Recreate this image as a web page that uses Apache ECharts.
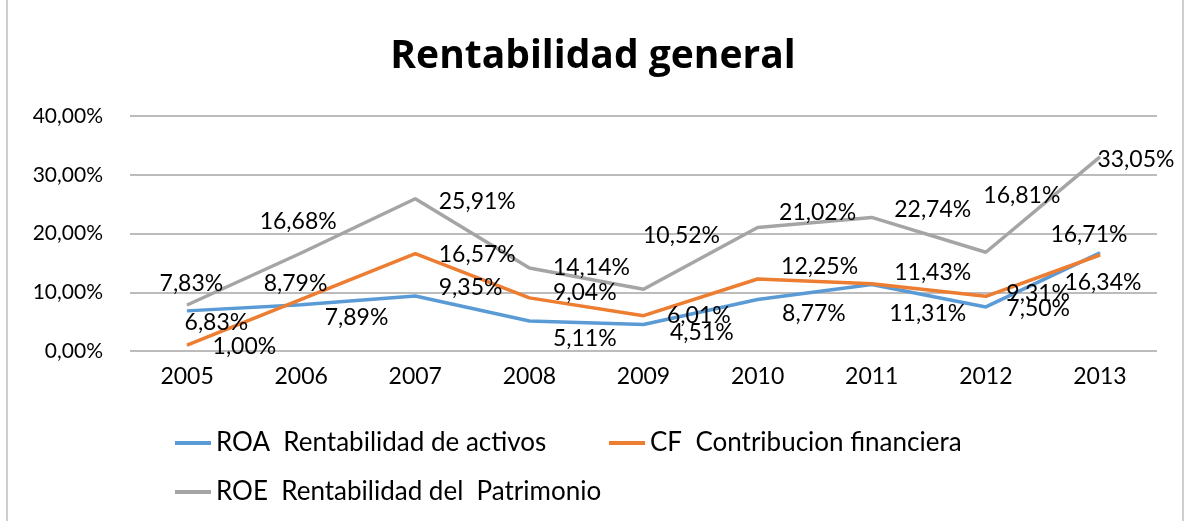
<!DOCTYPE html>
<html>
<head>
<meta charset="utf-8">
<script src="https://cdn.jsdelivr.net/npm/echarts@6/dist/echarts.min.js"></script>
<style>
  html, body { margin: 0; padding: 0; background: #fff; }
  #myChart { width: 1186px; height: 521px; }
</style>
</head>
<body>
<div id="myChart"></div>
<script>
// datos
const years = ['2005', '2006', '2007', '2008', '2009', '2010', '2011', '2012', '2013'];
const roa = [6.83, 7.89, 9.35, 5.11, 4.51, 8.77, 11.31, 7.50, 16.71];
const cf = [1.00, 8.79, 16.57, 9.04, 6.01, 12.25, 11.43, 9.31, 16.34];
const roe = [7.83, 16.68, 25.91, 14.14, 10.52, 21.02, 22.74, 16.81, 33.05];
const yTicks = [0, 10, 20, 30, 40];

const names = {
  roa: 'ROA  Rentabilidad de activos',
  cf: 'CF  Contribucion financiera',
  roe: 'ROE  Rentabilidad del  Patrimonio'
};

// desplazamiento de cada etiqueta (como en Excel, movidas a mano)
const roaShift = [[-8, 12], [18, 13], [18, -8], [18, 18], [21, 8], [19, 14], [12, 29], [15, 2], [-55, -18]];
const cfShift = [[20, 1], [-43, -16], [18, 1], [18, -5], [18, 0], [18, -12], [17, -11], [15, -3], [-41, 28]];
const roeShift = [[-33, -21], [-47, -31], [18, 3], [18, 0], [-6, -54], [16, -15], [17, -8], [-8, -57], [-8, 3]];

const font = 'Lato';
const fmt = v => v.toFixed(2).replace('.', ',') + '%';

function makeSeries(name, values, color, shift) {
  return {
    name: name,
    type: 'line',
    data: values.map((v, i) => ({
      value: v,
      label: { offset: shift[i] }
    })),
    symbol: 'circle',
    symbolSize: 1,
    showSymbol: true,
    itemStyle: { color: color },
    lineStyle: { color: color, width: 3.5 },
    label: {
      show: true,
      position: 'right',
      distance: 5,
      color: '#000',
      fontFamily: font,
      fontSize: 23,
      formatter: p => fmt(p.value)
    },
    emphasis: { disabled: true }
  };
}

const legendBase = {
  orient: 'horizontal',
  icon: 'rect',
  itemWidth: 36,
  itemHeight: 4,
  itemGap: 6,
  textStyle: { fontFamily: font, fontSize: 26, color: '#000' },
  selectedMode: false
};

let myChart = echarts.init(document.getElementById('myChart'), null, { renderer: 'canvas' });
let option = {
  animation: false,
  backgroundColor: '#fff',
  title: {
    text: 'Rentabilidad general',
    left: 'center',
    top: 32,
    textStyle: { fontFamily: 'Open Sans', fontSize: 39, fontWeight: 'bold', color: '#000' }
  },
  legend: [
    Object.assign({}, legendBase, { data: [names.roa], left: 170, top: 425 }),
    Object.assign({}, legendBase, { data: [names.cf], left: 604, top: 425 }),
    Object.assign({}, legendBase, { data: [names.roe], left: 170, top: 474 })
  ],
  grid: { left: 130, right: 29, top: 116, bottom: 170 },
  xAxis: {
    type: 'category',
    data: years,
    boundaryGap: true,
    axisLine: { show: false },
    axisTick: { show: false },
    axisLabel: { fontFamily: font, fontSize: 23, color: '#000', margin: 14 }
  },
  yAxis: {
    type: 'value',
    min: yTicks[0],
    max: yTicks[yTicks.length - 1],
    interval: 10,
    axisLine: { show: false },
    axisTick: { show: false },
    splitLine: { lineStyle: { color: '#a6a6a6', width: 1.5 } },
    axisLabel: {
      fontFamily: font, fontSize: 21, color: '#000', margin: 27,
      formatter: v => fmt(v)
    }
  },
  graphic: [{
    type: 'rect',
    shape: { x: 7, y: -2, width: 1176, height: 530 },
    style: { fill: 'none', stroke: '#bfbfbf', lineWidth: 1.5 },
    silent: true
  }],
  series: [
    makeSeries(names.roa, roa, '#5b9bd5', roaShift),
    makeSeries(names.cf, cf, '#ed7d31', cfShift),
    makeSeries(names.roe, roe, '#a5a5a5', roeShift)
  ]
};
myChart.setOption(option);
</script>
</body>
</html>
